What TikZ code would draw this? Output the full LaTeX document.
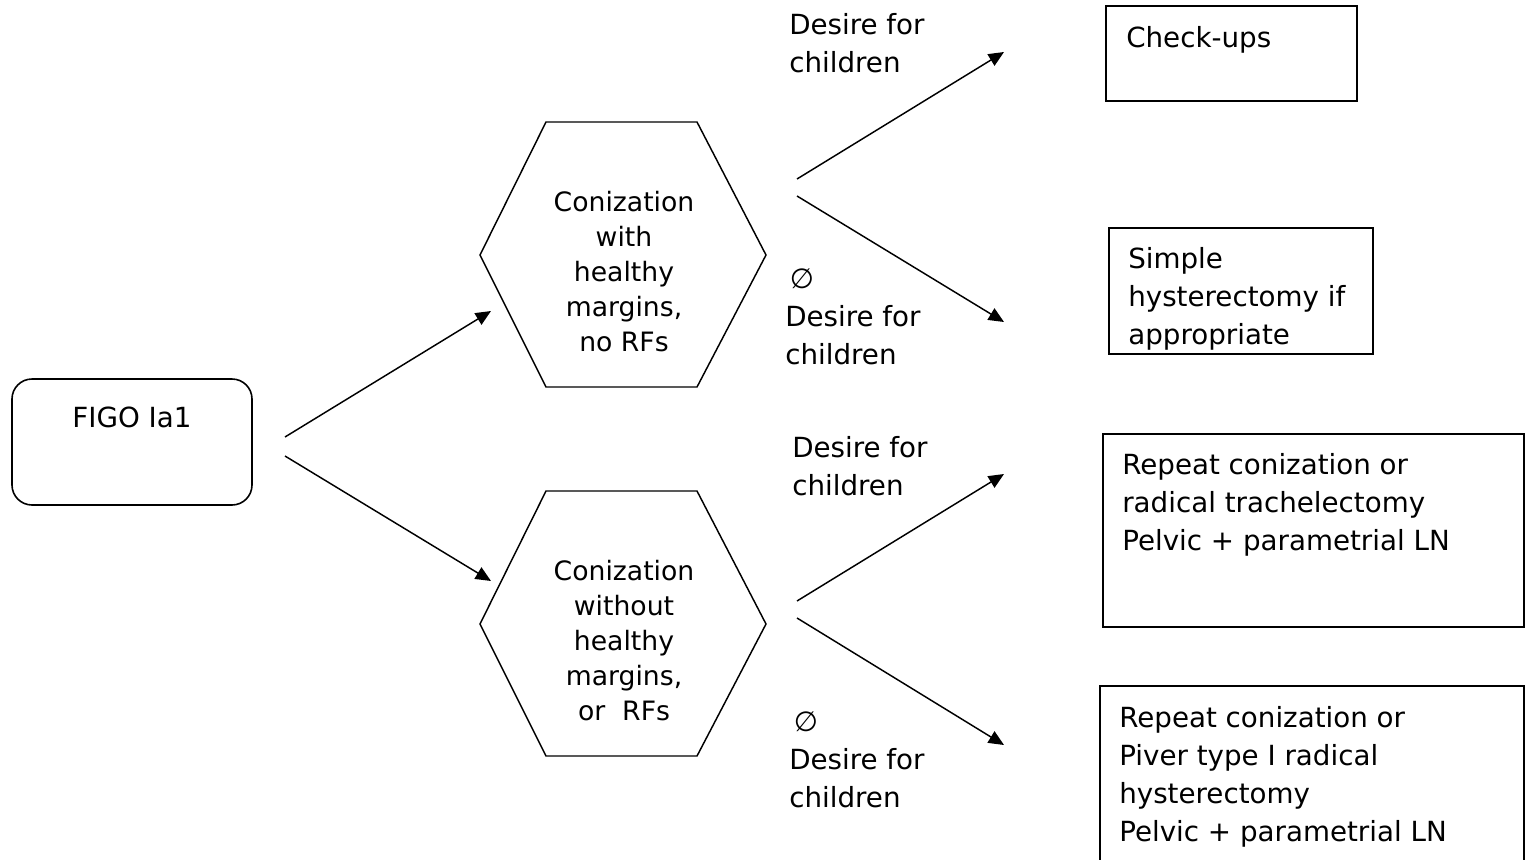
\documentclass[tikz,border=0pt]{standalone}
\usepackage{fontspec}
\setmainfont{DejaVu Sans}
\usetikzlibrary{arrows.meta}

\tikzset{
  every node/.style={font=\fontsize{20.8}{28.5}\selectfont, inner sep=0pt},
  outbox/.style={draw, line width=1.2pt},
  lbl/.style={anchor=west, align=left},
  hextext/.style={align=center, font=\fontsize{20}{26.25}\selectfont},
  arr/.style={-{Triangle[length=11.5pt,width=10pt]}, line width=1.1pt},
}
\newcommand{\hexat}[1]{\draw[line width=1.1pt, shift={(#1)}] (-144,0) -- (-78,-133) -- (73,-133) -- (142,0) -- (73,132) -- (-78,132) -- cycle;}

\begin{document}
\begin{tikzpicture}[x=0.75pt, y=-0.75pt]
\useasboundingbox (0,0) rectangle (1531,860);
\clip (0,0) rectangle (1531,860);

% start box
\node[outbox, rounded corners=15pt, minimum width=180pt, minimum height=94.5pt] (figo) at (132,442) {};
\node (figot) at (132,417) {FIGO Ia1};

% conization hexagons
\coordinate (hexa) at (624,255);
\coordinate (hexb) at (624,624);
\hexat{hexa}
\hexat{hexb}
\node[hextext] (cona) at (624,272) {Conization\\with\\healthy\\margins,\\ no RFs};
\node[hextext] (conb) at (624,641) {Conization\\without\\healthy\\margins,\\or\ \ RFs};

% treatment boxes
\node[outbox, minimum width=188.25pt, minimum height=71.25pt] (chk) at (1231.5,53.5) {};
\node[outbox, minimum width=198pt, minimum height=94.5pt] (simp) at (1241,291) {};
\node[outbox, minimum width=315.75pt, minimum height=144.75pt] (repa) at (1313.5,530.5) {};
\node[outbox, minimum width=318pt, minimum height=150pt] (repb) at (1312,786) {};
\node[lbl] (chkt) at (1126,40) {Check-ups};
\node[lbl] (simpt) at (1128,299) {Simple\\hysterectomy if\\appropriate};
\node[lbl] (repat) at (1122,505) {Repeat conization or\\radical trachelectomy\\Pelvic + parametrial LN};
\node[lbl] (repbt) at (1119,777) {Repeat conization or\\Piver type I radical\\hysterectomy\\Pelvic + parametrial LN};

% branch labels
\node[lbl] (dca) at (789,43) {Desire for\\children};
\node[lbl] (nda) at (785,317) {\,∅\\Desire for\\children};
\node[lbl] (dcb) at (792,466) {Desire for\\children};
\node[lbl] (ndb) at (789,760) {\,∅\\Desire for\\children};

% arrows
\coordinate (fa) at (285,437);
\coordinate (fb) at (285,456);
\coordinate (ha) at (491,311);
\coordinate (hb) at (491,581);
\draw[arr] (fa) -- (ha);
\draw[arr] (fb) -- (hb);

\coordinate (aa) at (797,179);
\coordinate (ab) at (797,196);
\coordinate (ba) at (797,601);
\coordinate (bb) at (797,618);
\coordinate (ta) at (1004,52);
\coordinate (tb) at (1004,322);
\coordinate (tc) at (1004,474);
\coordinate (td) at (1004,745);
\draw[arr] (aa) -- (ta);
\draw[arr] (ab) -- (tb);
\draw[arr] (ba) -- (tc);
\draw[arr] (bb) -- (td);
\end{tikzpicture}
\end{document}
